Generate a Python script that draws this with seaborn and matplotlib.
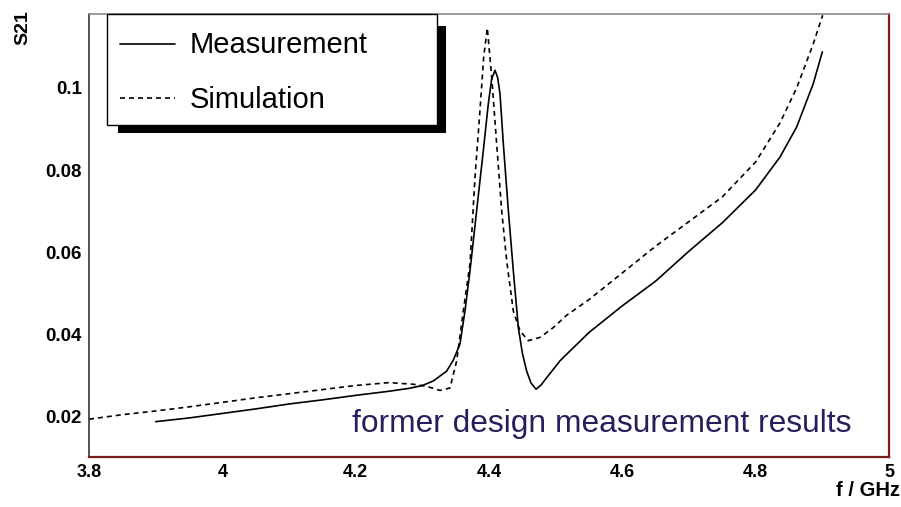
import numpy as np
import pandas as pd
import matplotlib
matplotlib.use("Agg")
import matplotlib.pyplot as plt
import matplotlib.ticker as mticker
from matplotlib.patches import Rectangle
from matplotlib.lines import Line2D
import seaborn as sns

# Data
meas_f = [3.90, 3.95, 4.00, 4.05, 4.10, 4.15, 4.20, 4.25, 4.28, 4.30, 4.3165,
          4.3365, 4.3465, 4.3565, 4.364, 4.3715, 4.3815, 4.3915, 4.399, 4.404,
          4.409, 4.413, 4.4165, 4.4215, 4.429, 4.4365, 4.444, 4.450, 4.4565,
          4.463, 4.4705, 4.478, 4.4865, 4.5065, 4.5165, 4.55, 4.60, 4.65, 4.70,
          4.75, 4.80, 4.8365, 4.8615, 4.8865, 4.90]
meas_s21 = [0.0188, 0.0197, 0.0208, 0.0219, 0.0231, 0.0241, 0.0252, 0.0262, 0.0269, 0.0276, 0.0287,
            0.0311, 0.0338, 0.0377, 0.0458, 0.0555, 0.0702, 0.0848, 0.0962, 0.1022,
            0.1043, 0.1025, 0.0986, 0.0864, 0.0702, 0.0555, 0.0417, 0.0355, 0.0311,
            0.0282, 0.0267, 0.0277, 0.0295, 0.0336, 0.0352, 0.0405, 0.0470, 0.0530, 0.0603,
            0.0672, 0.0752, 0.0832, 0.0905, 0.1011, 0.1088]

sim_f = [3.80, 3.85, 3.90, 3.95, 4.00, 4.05, 4.10, 4.15, 4.20, 4.25, 4.2865,
         4.3065, 4.3265, 4.3415, 4.3515, 4.3615, 4.3715, 4.379, 4.3865, 4.392,
         4.3975, 4.404, 4.4115, 4.419, 4.4265, 4.4365, 4.4465, 4.459, 4.4765,
         4.4965, 4.5165, 4.55, 4.60, 4.65, 4.70, 4.75, 4.80, 4.8365, 4.8615,
         4.8865, 4.9005]
sim_s21 = [0.0194, 0.0205, 0.0214, 0.0224, 0.0235, 0.0246, 0.0256, 0.0266, 0.0276, 0.0283, 0.0279,
           0.0274, 0.0264, 0.0270, 0.0336, 0.0458, 0.0572, 0.0783, 0.0946, 0.1075,
           0.1146, 0.1027, 0.0864, 0.0702, 0.0580, 0.0457, 0.0409, 0.0385, 0.0393,
           0.0417, 0.0447, 0.0485, 0.0550, 0.0615, 0.0675, 0.0735, 0.0820, 0.0915, 0.1000,
           0.1108, 0.1177]

series_names = ["Measurement", "Simulation"]
x_ticks = [3.8, 4.0, 4.2, 4.4, 4.6, 4.8, 5.0]
y_ticks = [0.02, 0.04, 0.06, 0.08, 0.10]

df = pd.concat([
    pd.DataFrame({"f": meas_f, "S21": meas_s21, "series": series_names[0]}),
    pd.DataFrame({"f": sim_f, "S21": sim_s21, "series": series_names[1]}),
], ignore_index=True)

sns.set_style("white")
plt.rcParams["font.family"] = ["Liberation Sans", "DejaVu Sans"]
plt.rcParams["text.color"] = "black"
plt.rcParams["xtick.color"] = "black"
plt.rcParams["ytick.color"] = "black"

W, H = 901, 507
fig = plt.figure(figsize=(W / 100, H / 100), dpi=100)
ax = fig.add_axes([89 / W, 1 - 457 / H, 800 / W, 443 / H])

sns.lineplot(data=df, x="f", y="S21", style="series", color="black",
             dashes={"Measurement": "", "Simulation": (3, 2.4)},
             sort=False, estimator=None, linewidth=1.2, legend=False, ax=ax)

ax.set_xlim(3.8, 5.0)
ax.set_ylim(0.0102, 0.118)
ax.set_xlabel("")
ax.set_ylabel("")

fmt = mticker.FuncFormatter(lambda v, p: f"{v:g}")
ax.xaxis.set_major_locator(mticker.FixedLocator(x_ticks))
ax.xaxis.set_minor_locator(mticker.MultipleLocator(0.05))
ax.yaxis.set_major_locator(mticker.FixedLocator(y_ticks))
ax.yaxis.set_minor_locator(mticker.MultipleLocator(0.005))
ax.xaxis.set_major_formatter(fmt)
ax.yaxis.set_major_formatter(fmt)

ax.tick_params(axis="both", which="both", direction="in", color="#222222",
               labelcolor="black", top=False, right=False, labelsize=13.5)
ax.tick_params(axis="y", which="major", length=16.5, width=1.1, pad=5)
ax.tick_params(axis="y", which="minor", length=8.5, width=1.1)
ax.tick_params(axis="x", which="major", length=9, width=1.1, pad=5, labelsize=13)
ax.tick_params(axis="x", which="minor", length=5, width=1.1)
for lab in ax.get_xticklabels() + ax.get_yticklabels():
    lab.set_fontweight("bold")

ax.spines["left"].set_color("#333333")
ax.spines["left"].set_linewidth(1.2)
ax.spines["top"].set_color("#8a8a8a")
ax.spines["top"].set_linewidth(1.2)
ax.spines["bottom"].set_color("#7a1a1a")
ax.spines["bottom"].set_linewidth(1.6)
ax.spines["right"].set_color("#7a1a1a")
ax.spines["right"].set_linewidth(1.6)

# ROOT-style legend box with hard shadow
fig.patches.append(Rectangle((118 / W, 1 - 133 / H), 328 / W, 107 / H,
                             transform=fig.transFigure, facecolor="black",
                             edgecolor="none", zorder=10))
fig.patches.append(Rectangle((107 / W, 1 - 125 / H), 330 / W, 111 / H,
                             transform=fig.transFigure, facecolor="white",
                             edgecolor="black", linewidth=1.0, zorder=11))
fig.lines.append(Line2D([120 / W, 175 / W], [1 - 44 / H, 1 - 44 / H],
                        transform=fig.transFigure, color="black", lw=1.2, zorder=12))
fig.lines.append(Line2D([120 / W, 175 / W], [1 - 98 / H, 1 - 98 / H],
                        transform=fig.transFigure, color="black", lw=1.2,
                        dashes=(3, 2.4), zorder=12))
fig.text(190 / W, 1 - 45 / H, series_names[0], fontsize=21, va="center", zorder=13)
fig.text(190 / W, 1 - 100 / H, series_names[1], fontsize=21, va="center", zorder=13)

# axis titles
fig.text(23 / W, 1 - 10 / H, "S21", rotation=90, ha="center", va="top",
         fontsize=14, fontweight="bold")
fig.text(900 / W, 1 - 496 / H, "f / GHz", ha="right", va="baseline",
         fontsize=14.5, fontweight="bold")

ax.text(4.1945, 0.0163, "former design measurement results", color="#2b1d5c",
        fontsize=22.9, va="baseline", ha="left")

fig.savefig("out.png", dpi=100)
